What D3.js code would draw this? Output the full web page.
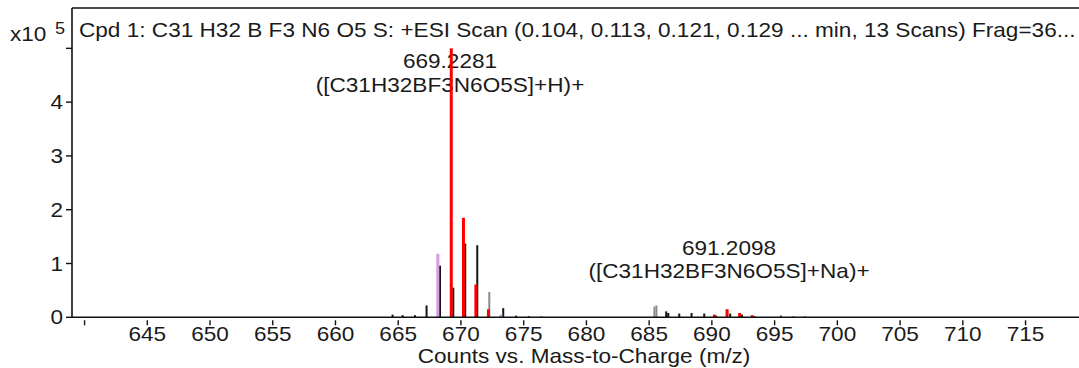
<!DOCTYPE html>
<html>
<head>
<meta charset="utf-8">
<script src="https://cdn.jsdelivr.net/npm/d3@7"></script>
<style>
  html, body { margin: 0; padding: 0; background: #fff; }
  svg { display: block; font-family: "Liberation Sans", Arial, sans-serif; }
</style>
</head>
<body>
<svg id="chart" width="1079" height="368"></svg>
<script>
// Measured spectrum sticks (m/z, counts ×10^5)
const measuredMz = [664.55, 665.35, 666.33, 667.26, 668.33, 669.39, 670.34, 671.30, 673.37, 674.4, 675.4, 676.4,
                    686.36, 686.52, 687.4, 688.38, 689.39, 690.35, 691.46, 692.4, 693.4, 695.5, 696.5, 697.4];
const measuredCounts = [0.05, 0.04, 0.04, 0.22, 0.96, 0.55, 1.37, 1.34, 0.17, 0.03, 0.02, 0.015,
                        0.11, 0.08, 0.07, 0.08, 0.07, 0.03, 0.07, 0.05, 0.02, 0.03, 0.015, 0.015];
// Saturated / flagged sticks (grey)
const flaggedMz = [672.26, 685.42, 685.58];
const flaggedCounts = [0.47, 0.20, 0.22];
// Predicted isotope pattern, 11B species (red)
const predictedMz = [669.2281, 670.20, 671.19, 672.19, 690.2, 691.2098, 692.21, 693.21];
const predictedCounts = [5.0, 1.85, 0.61, 0.15, 0.05, 0.15, 0.08, 0.04];
// Predicted 10B isotope sticks (violet)
const boron10Mz = [668.16, 673.18];
const boron10Counts = [1.18, 0.05];

const xTicks = [640, 645, 650, 655, 660, 665, 670, 675, 680, 685, 690, 695, 700, 705, 710, 715];
const xTickLabels = ["", "645", "650", "655", "660", "665", "670", "675", "680", "685", "690", "695", "700", "705", "710", "715"];
const yTicks = [0, 1, 2, 3, 4, 5];
const yTickLabels = ["0", "1", "2", "3", "4", ""];

const titleText = "Cpd 1: C31 H32 B F3 N6 O5 S: +ESI Scan (0.104, 0.113, 0.121, 0.129 ... min, 13 Scans) Frag=36...";
const xAxisTitle = "Counts vs. Mass-to-Charge (m/z)";
const peakLabels = [
  { mz: 669.2281, lines: ["669.2281", "([C31H32BF3N6O5S]+H)+"] },
  { mz: 691.2098, lines: ["691.2098", "([C31H32BF3N6O5S]+Na)+"] }
];

const svg = d3.select("#chart");
const plotLeft = 72, plotRight = 1079, plotTop = 8, plotBottom = 317.3;

const x = d3.scaleLinear().domain([639.0, 719.26]).range([plotLeft, plotRight]);
const y = d3.scaleLinear().domain([0, 5.75]).range([plotBottom, plotTop]);

const textColor = "#1a1a1a";
const fs = 20;      // font size
const sx = 1.13;    // horizontal stretch of the instrument font

// Text placed at an anchor and widened horizontally about that anchor
function label(px, py, str, anchor = "start", size = fs) {
  return svg.append("text")
    .attr("transform", `translate(${px},${py}) scale(${sx},1)`)
    .attr("text-anchor", anchor)
    .attr("font-size", size)
    .attr("fill", textColor)
    .text(str);
}

// Title inside the frame
label(79, 37, titleText);

// Exponent label
label(10, 41, "x10");
label(55, 34, "5", "start", 16);

// Peak annotations (drawn beneath the sticks)
const annot = [
  { cx: 450, y1: 68, y2: 92 },
  { cx: 729, y1: 255, y2: 278 }
];
peakLabels.forEach((p, i) => {
  const a = annot[i];
  p.lines.forEach((t, j) => label(a.cx, j === 0 ? a.y1 : a.y2, t, "middle"));
});

// Frame: left axis, top border
const frame = svg.append("g").attr("stroke", "#111").attr("stroke-width", 1.6).attr("fill", "none");
frame.append("line").attr("x1", plotLeft).attr("x2", plotLeft).attr("y1", plotTop).attr("y2", plotBottom);
frame.append("line").attr("x1", plotLeft).attr("x2", plotRight + 5).attr("y1", plotTop).attr("y2", plotTop);

// Y axis ticks and labels
yTicks.forEach((v, i) => {
  svg.append("line")
    .attr("x1", plotLeft - 6).attr("x2", plotLeft).attr("y1", y(v)).attr("y2", y(v))
    .attr("stroke", "#111").attr("stroke-width", 1.4);
  if (yTickLabels[i]) label(plotLeft - 9, y(v) + 7, yTickLabels[i], "end");
});

// X axis ticks (detached slightly below baseline) and labels
xTicks.forEach((v, i) => {
  svg.append("line")
    .attr("x1", x(v)).attr("x2", x(v)).attr("y1", plotBottom + 3).attr("y2", plotBottom + 8)
    .attr("stroke", "#111").attr("stroke-width", 1.4);
  if (xTickLabels[i]) label(x(v), 341, xTickLabels[i], "middle");
});

label(584, 363, xAxisTitle, "middle");

// Stick spectra
function sticks(mz, counts, color, w) {
  svg.append("g").selectAll("rect")
    .data(d3.zip(mz, counts))
    .join("rect")
    .attr("x", d => x(d[0]) - w / 2)
    .attr("width", w)
    .attr("y", d => y(d[1]))
    .attr("height", d => y(0) - y(d[1]))
    .attr("fill", color);
}
sticks(measuredMz, measuredCounts, "#151515", 2);
sticks(flaggedMz, flaggedCounts, "#8c8c8c", 2);
sticks(boron10Mz, boron10Counts, "#d59be3", 3);
sticks(predictedMz, predictedCounts, "#ff0000", 3);

// Baseline over the sticks
svg.append("line")
  .attr("x1", plotLeft).attr("x2", plotRight + 5).attr("y1", plotBottom).attr("y2", plotBottom)
  .attr("stroke", "#111").attr("stroke-width", 1.6);
</script>
</body>
</html>
